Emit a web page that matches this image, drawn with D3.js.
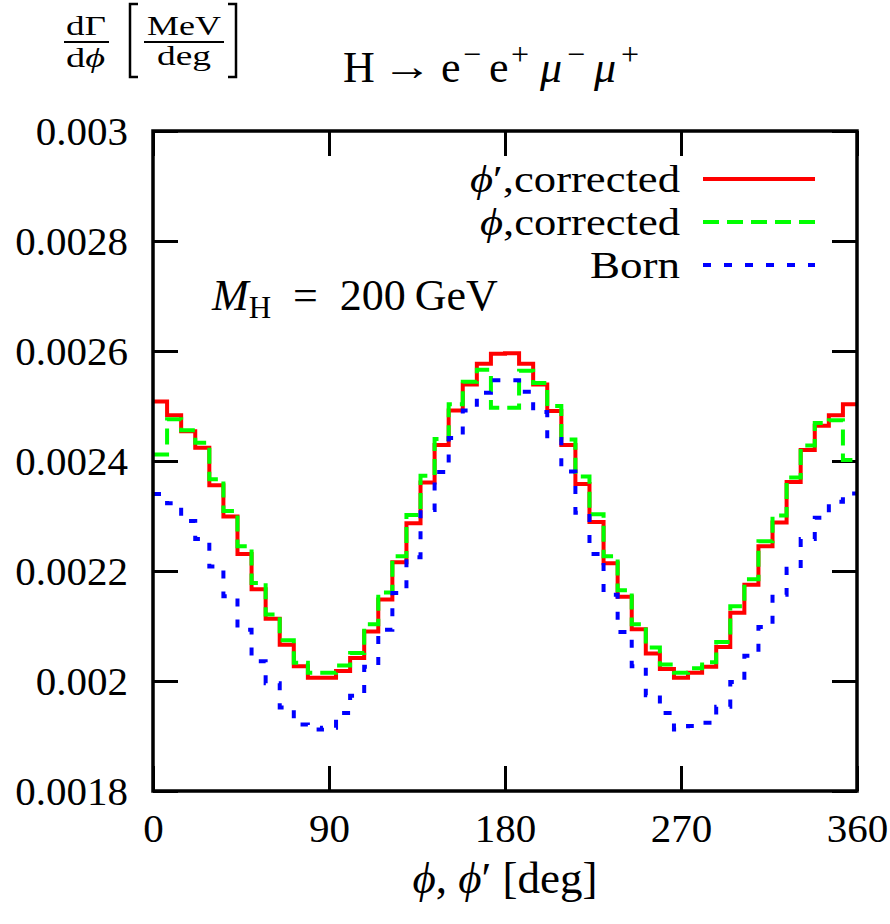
<!DOCTYPE html>
<html lang="en">
<head>
    <meta charset="UTF-8">
    <title>H -> e-e+mu-mu+ : phi distribution</title>
    <script src="https://d3js.org/d3.v7.min.js"></script>
    <style>
        body {
            margin: 0;
            background: #fff;
        }
        svg text {
            font-family: "Liberation Serif", "DejaVu Serif", serif;
            fill: #000;
        }
    </style>
</head>
<body>
    <div id="chart"></div>
    <script>
        // 50 bins of 7.2 deg between 0 and 360
        const nBins = 50;
        const phiBins = d3.range(nBins).map(i => i * 360 / nBins);

        // dGamma/dphi [MeV/deg], one value per bin
        const phiPrimeCorrected = [
            0.002508, 0.002483, 0.002454, 0.002424, 0.002356, 0.002299, 0.002231, 0.002167, 0.002113, 0.002066,
            0.002027, 0.002006, 0.002006, 0.002018, 0.002042, 0.002090, 0.002148, 0.002216, 0.002287, 0.002361,
            0.002429, 0.002492, 0.002539, 0.002577, 0.002595, 0.002596, 0.002577, 0.002539, 0.002491, 0.002429,
            0.002358, 0.002289, 0.002214, 0.002153, 0.002094, 0.002050, 0.002022, 0.002006, 0.002015, 0.002026,
            0.002062, 0.002124, 0.002175, 0.002245, 0.002288, 0.002362, 0.002420, 0.002464, 0.002483, 0.002503
        ];
        const phiCorrected = [
            0.002412, 0.002476, 0.002456, 0.002433, 0.002367, 0.002309, 0.002245, 0.002178, 0.002121, 0.002074,
            0.002033, 0.002015, 0.002015, 0.002028, 0.002051, 0.002103, 0.002161, 0.002227, 0.002302, 0.002373,
            0.002440, 0.002503, 0.002544, 0.002566, 0.002497, 0.002497, 0.002564, 0.002542, 0.002500, 0.002439,
            0.002372, 0.002303, 0.002227, 0.002165, 0.002103, 0.002061, 0.002030, 0.002015, 0.002023, 0.002034,
            0.002071, 0.002136, 0.002185, 0.002254, 0.002301, 0.002370, 0.002428, 0.002469, 0.002474, 0.002402
        ];
        const born = [
            0.002340, 0.002323, 0.002291, 0.002258, 0.002208, 0.002154, 0.002093, 0.002036, 0.001996, 0.001952,
            0.001921, 0.001912, 0.001915, 0.001942, 0.001973, 0.002026, 0.002093, 0.002160, 0.002225, 0.002311,
            0.002380, 0.002442, 0.002492, 0.002524, 0.002547, 0.002547, 0.002526, 0.002489, 0.002440, 0.002381,
            0.002306, 0.002231, 0.002157, 0.002089, 0.002027, 0.001974, 0.001942, 0.001912, 0.001918, 0.001924,
            0.001953, 0.001998, 0.002046, 0.002098, 0.002157, 0.002204, 0.002258, 0.002297, 0.002326, 0.002341
        ];

        const xTicks = [0, 90, 180, 270, 360];
        const yTicks = [0.0018, 0.002, 0.0022, 0.0024, 0.0026, 0.0028, 0.003];
        const yTickLabels = ["0.0018", "0.002", "0.0022", "0.0024", "0.0026", "0.0028", "0.003"];

        const series = [
            { name: "phiPrime", values: phiPrimeCorrected, color: "#ff0000", dash: null },
            { name: "phi", values: phiCorrected, color: "#00ff00", dash: "16,8" },
            { name: "born", values: born, color: "#0000ff", dash: "8,13" }
        ];

        const W = 890, H = 924;
        const plot = { left: 153, right: 857, top: 131, bottom: 791 };
        const serif = '"Liberation Serif", "DejaVu Serif", serif';

        const svg = d3.select("#chart").append("svg")
            .attr("width", W)
            .attr("height", H);

        const x = d3.scaleLinear().domain([0, 360]).range([plot.left, plot.right]);
        const y = d3.scaleLinear().domain([0.0018, 0.003]).range([plot.bottom, plot.top]);

        const tickFont = 41;
        const tickLen = 25;

        // axes with inward ticks on all four sides
        const gBottom = svg.append("g")
            .attr("transform", `translate(0,${plot.bottom})`)
            .call(d3.axisBottom(x).tickValues(xTicks).tickSize(-tickLen).tickPadding(22).tickFormat(d3.format("d")));
        const gTop = svg.append("g")
            .attr("transform", `translate(0,${plot.top})`)
            .call(d3.axisTop(x).tickValues(xTicks).tickSize(-tickLen).tickFormat(""));
        const gLeft = svg.append("g")
            .attr("transform", `translate(${plot.left},0)`)
            .call(d3.axisLeft(y).tickValues(yTicks).tickSize(-tickLen).tickPadding(25)
                .tickFormat((d, i) => yTickLabels[i]));
        const gRight = svg.append("g")
            .attr("transform", `translate(${plot.right},0)`)
            .call(d3.axisRight(y).tickValues(yTicks).tickSize(-tickLen).tickFormat(""));

        [gBottom, gTop, gLeft, gRight].forEach(g => {
            g.attr("font-family", serif).attr("font-size", tickFont);
            g.select(".domain").remove();
            g.selectAll(".tick line").attr("stroke", "#000").attr("stroke-width", 3);
            g.selectAll(".tick text")
                .attr("font-family", serif)
                .style("font-size", tickFont + "px")
                .attr("fill", "#000");
        });

        // step curves
        const line = d3.line()
            .x(d => x(d[0]))
            .y(d => y(d[1]))
            .curve(d3.curveStepAfter);

        series.forEach(s => {
            const pts = phiBins.map((p, i) => [p, s.values[i]]);
            pts.push([360, s.values[s.values.length - 1]]);
            svg.append("path")
                .datum(pts)
                .attr("fill", "none")
                .attr("stroke", s.color)
                .attr("stroke-width", 4)
                .attr("stroke-dasharray", s.dash)
                .attr("d", line);
        });

        // frame
        svg.append("rect")
            .attr("x", plot.left)
            .attr("y", plot.top)
            .attr("width", plot.right - plot.left)
            .attr("height", plot.bottom - plot.top)
            .attr("fill", "none")
            .attr("stroke", "#000")
            .attr("stroke-width", 3.5);

        // legend (glyphs stretched a little to the width of the original labels)
        const legendFont = 38;
        const legendRows = [
            { y: 179, width: 210, parts: [["ϕ", true], ["′,corrected", false]] },
            { y: 222, width: 200, parts: [["ϕ", true], [",corrected", false]] },
            { y: 265, width: 90, parts: [["Born", false]] }
        ];
        legendRows.forEach((row, i) => {
            const t = svg.append("text")
                .attr("x", 680 - row.width)
                .attr("y", row.y + 13)
                .attr("textLength", row.width)
                .attr("lengthAdjust", "spacingAndGlyphs")
                .style("font-size", legendFont + "px");
            row.parts.forEach(([txt, it]) => {
                t.append("tspan").text(txt).style("font-style", it ? "italic" : "normal");
            });
            svg.append("line")
                .attr("x1", 703).attr("x2", 815)
                .attr("y1", row.y).attr("y2", row.y)
                .attr("stroke", series[i].color)
                .attr("stroke-width", 4)
                .attr("stroke-dasharray", series[i].dash);
        });

        // M_H annotation
        const mh = svg.append("text")
            .attr("x", 212)
            .attr("y", 310)
            .style("font-size", "44px");
        mh.append("tspan").text("M").style("font-style", "italic");
        mh.append("tspan").text("H").attr("dy", 8).style("font-size", "31px");
        mh.append("tspan").text("\u2002=\u2002200\u2009GeV").attr("dy", -8);

        // title: H -> e- e+ mu- mu+
        const titleY = 82;
        const titleParts = [
            { t: "H", x: 343, sup: false, it: false },
            { t: "e", x: 441, sup: false, it: false },
            { t: "\u2212", x: 463, sup: true, it: false },
            { t: "e", x: 489, sup: false, it: false },
            { t: "+", x: 511, sup: true, it: false },
            { t: "μ", x: 540, sup: false, it: true },
            { t: "\u2212", x: 567, sup: true, it: false },
            { t: "μ", x: 594, sup: false, it: true },
            { t: "+", x: 621, sup: true, it: false }
        ];
        titleParts.forEach(p => {
            svg.append("text")
                .attr("x", p.x)
                .attr("y", p.sup ? titleY - 17 : titleY)
                .style("font-size", p.sup ? "32px" : "44px")
                .style("font-style", p.it ? "italic" : "normal")
                .text(p.t);
        });
        svg.append("text")
            .attr("x", 382)
            .attr("y", titleY - 2)
            .attr("textLength", 50)
            .attr("lengthAdjust", "spacingAndGlyphs")
            .style("font-size", "40px")
            .text("\u2192");

        // x axis title
        const xt = svg.append("text")
            .attr("x", 505)
            .attr("y", 893)
            .attr("text-anchor", "middle")
            .style("font-size", "45px");
        xt.append("tspan").text("ϕ").style("font-style", "italic");
        xt.append("tspan").text(", ");
        xt.append("tspan").text("ϕ").style("font-style", "italic");
        xt.append("tspan").text("′ [deg]");

        // y axis label: dGamma/dphi [MeV/deg]
        const yl = svg.append("g");
        const fracFont = 28;
        yl.append("text").attr("x", 66).attr("y", 35)
            .attr("textLength", 40).attr("lengthAdjust", "spacingAndGlyphs")
            .style("font-size", fracFont + "px").text("dΓ");
        yl.append("line").attr("x1", 64).attr("x2", 109).attr("y1", 42).attr("y2", 42)
            .attr("stroke", "#000").attr("stroke-width", 2);
        const dphi = yl.append("text").attr("x", 66).attr("y", 67)
            .attr("textLength", 39).attr("lengthAdjust", "spacingAndGlyphs")
            .style("font-size", fracFont + "px");
        dphi.append("tspan").text("d");
        dphi.append("tspan").text("ϕ").style("font-style", "italic");

        yl.append("text").attr("x", 147).attr("y", 35)
            .attr("textLength", 74).attr("lengthAdjust", "spacingAndGlyphs")
            .style("font-size", fracFont + "px").text("MeV");
        yl.append("line").attr("x1", 144).attr("x2", 224).attr("y1", 42).attr("y2", 42)
            .attr("stroke", "#000").attr("stroke-width", 2);
        yl.append("text").attr("x", 157).attr("y", 65)
            .attr("textLength", 54).attr("lengthAdjust", "spacingAndGlyphs")
            .style("font-size", fracFont + "px").text("deg");

        // big brackets
        yl.append("path")
            .attr("d", "M138,4 H130 V77 H138")
            .attr("fill", "none").attr("stroke", "#000").attr("stroke-width", 2.5);
        yl.append("path")
            .attr("d", "M228,4 H236 V77 H228")
            .attr("fill", "none").attr("stroke", "#000").attr("stroke-width", 2.5);
    </script>
</body>
</html>
